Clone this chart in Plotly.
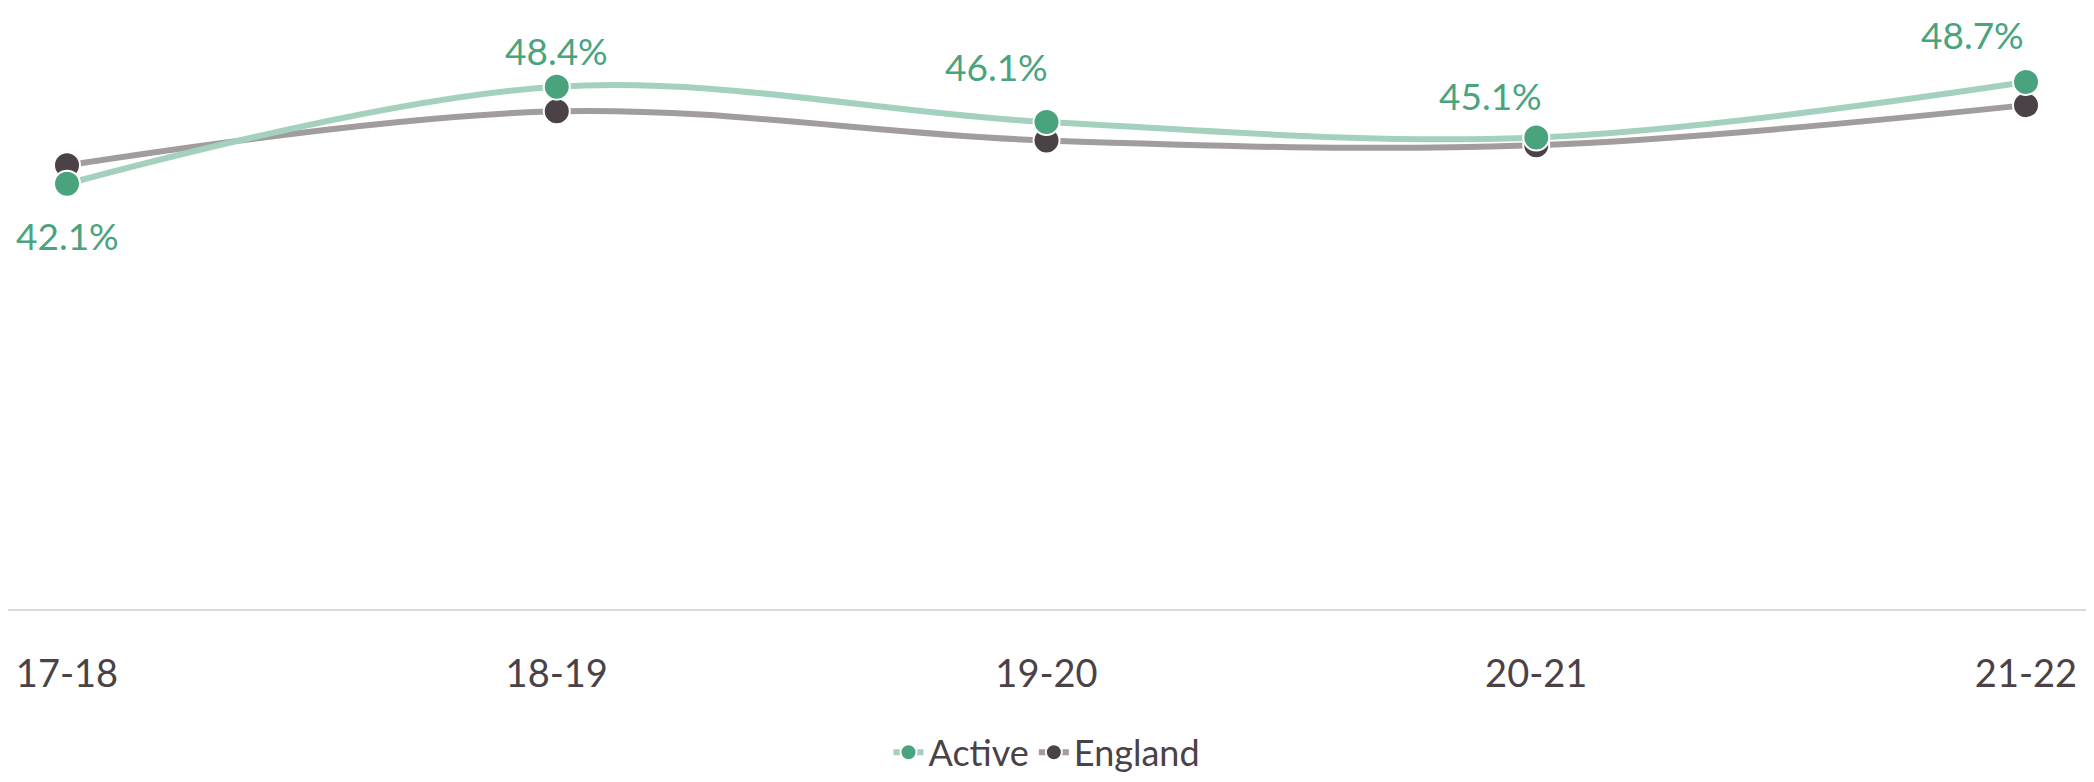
import plotly.graph_objects as go

seasons = ["17-18", "18-19", "19-20", "20-21", "21-22"]
active = [42.1, 48.4, 46.1, 45.1, 48.7]
england = [43.3, 46.8, 44.9, 44.6, 47.2]

# label offsets in px (x, y) for the Active data labels
label_shift = [(0, -52), (0, 36), (-50, 56), (-46, 42), (-54, 48)]

FONT = "Lato"
TEXT_DARK = "#4a4246"

fig = go.Figure()
fig.add_trace(go.Scatter(
    x=seasons, y=england, name="England", mode="lines+markers",
    line=dict(color="#a19c9e", width=6, shape="spline", smoothing=1),
    marker=dict(color="#4a4246", size=26, line=dict(color="white", width=2)),
    cliponaxis=False,
))
fig.add_trace(go.Scatter(
    x=seasons, y=active, name="Active", mode="lines+markers",
    line=dict(color="#a4d1bd", width=6, shape="spline", smoothing=1),
    marker=dict(color="#49a47e", size=26, line=dict(color="white", width=2)),
    cliponaxis=False,
))

for s, v, (dx, dy) in zip(seasons, active, label_shift):
    fig.add_annotation(
        x=s, y=v, text=f"{v:.1f}%", showarrow=False,
        xshift=dx, yshift=dy, yanchor="middle",
        font=dict(family=FONT, size=37, color="#49a47e"),
    )

# page body adds an 8px margin, so the figure is sized to fit inside the window
fig.update_layout(
    width=2078, height=766,
    margin=dict(l=0, r=0, t=54, b=165, autoexpand=False),
    paper_bgcolor="white", plot_bgcolor="white",
    font=dict(family=FONT, size=38, color=TEXT_DARK),
    showlegend=True,
    legend=dict(orientation="h", x=0.5, xanchor="center", y=-0.262, yanchor="middle",
                traceorder="reversed", font=dict(size=36, color=TEXT_DARK)),
    xaxis=dict(type="category", range=[-0.1205, 4.1225], showgrid=False,
               showline=True, linecolor="#d9d9d9", linewidth=2, automargin=False,
               ticks="", ticklabelstandoff=30,
               tickfont=dict(family=FONT, size=38, color=TEXT_DARK)),
    yaxis=dict(range=[14.5, 50], visible=False, showgrid=False, zeroline=False,
               automargin=False),
)

fig.write_html("out.html")
